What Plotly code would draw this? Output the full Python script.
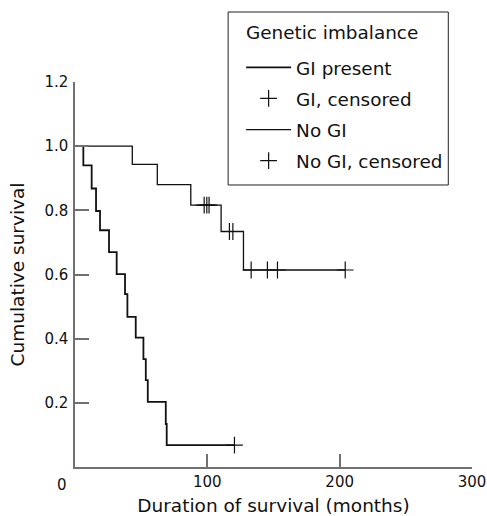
import plotly.graph_objects as go

# ---- data ----
gi_time = [0, 6.3, 12.6, 15.9, 18.9, 25.7, 31.5, 37.8, 39.6, 45.9, 51.7, 53.5, 55.0, 68.6, 69.3, 120.5]
gi_surv = [1.0, 0.940, 0.868, 0.798, 0.738, 0.670, 0.601, 0.539, 0.468, 0.403, 0.336, 0.271, 0.203, 0.134, 0.068, 0.068]
gi_cens_time = [120.5]
gi_cens_surv = [0.068]

nogi_time = [0, 43.3, 62.2, 87.5, 110.4, 127.3, 204.2]
nogi_surv = [1.0, 0.943, 0.880, 0.816, 0.734, 0.614, 0.614]
nogi_cens_time = [97.6, 99.6, 101.3, 116.7, 119.3, 133.1, 145.4, 153.0, 204.2]
nogi_cens_surv = [0.816, 0.816, 0.816, 0.734, 0.734, 0.614, 0.614, 0.614, 0.614]

x_tickvals = [0, 100, 200, 300]
x_ticktext = ["", "100", "200", "300"]
y_tickvals = [0, 0.2, 0.4, 0.6, 0.8, 1.0, 1.2]
y_ticktext = ["", "0.2", "0.4", "0.6", "0.8", "1.0", "1.2"]

FONT = "DejaVu Sans"
AXIS = "#707070"
INK = "#111111"

fig = go.Figure()
fig.add_trace(go.Scatter(x=gi_time, y=gi_surv, mode="lines", line=dict(color=INK, width=1.8, shape="hv"),
                         name="GI present", legendgroup="a"))
fig.add_trace(go.Scatter(x=gi_cens_time, y=gi_cens_surv, mode="markers",
                         marker=dict(symbol="cross-thin", size=12, line=dict(color=INK, width=1.2)),
                         name="GI, censored", legendgroup="b"))
fig.add_trace(go.Scatter(x=nogi_time, y=nogi_surv, mode="lines", line=dict(color=INK, width=1.3, shape="hv"),
                         name="No GI", legendgroup="c"))
fig.add_trace(go.Scatter(x=nogi_cens_time, y=nogi_cens_surv, mode="markers",
                         marker=dict(symbol="cross-thin", size=12, line=dict(color=INK, width=1.2)),
                         name="No GI, censored", legendgroup="d"))

fig.update_layout(
    width=487, height=516,
    margin=dict(l=75, r=15.3, t=81.7, b=49, autoexpand=False),
    plot_bgcolor="white", paper_bgcolor="white",
    font=dict(family=FONT, color=INK, size=15),
    showlegend=True,
    legend=dict(
        x=0.3857, y=1.086, xanchor="left", yanchor="top",
        borderwidth=0, bgcolor="rgba(0,0,0,0)",
        font=dict(family=FONT, size=18.4, color=INK),
        tracegroupgap=4.2, indentation=13, itemwidth=45,
    ),
    xaxis=dict(
        range=[0, 300], tickvals=x_tickvals, ticktext=x_ticktext,
        ticks="inside", ticklen=13, tickwidth=1.5, tickcolor=AXIS,
        showline=True, linecolor=AXIS, linewidth=1.5, showgrid=False, zeroline=False,
        tickfont=dict(family=FONT, size=15, color=INK),
        title=dict(text="Duration of survival (months)", font=dict(family=FONT, size=18.5, color=INK), standoff=17),
    ),
    yaxis=dict(
        range=[0, 1.2], tickvals=y_tickvals, ticktext=y_ticktext,
        ticks="inside", ticklen=14, tickwidth=1.5, tickcolor=AXIS,
        showline=True, linecolor=AXIS, linewidth=1.5, showgrid=False, zeroline=False,
        tickfont=dict(family=FONT, size=15, color=INK), ticklabelstandoff=2,
        title=dict(text="Cumulative survival", font=dict(family=FONT, size=18.5, color=INK), standoff=15),
    ),
    shapes=[dict(type="rect", xref="paper", yref="paper", x0=0.3857, x1=0.9403, y0=0.7325, y1=1.1818,
                 line=dict(color="#222222", width=1), fillcolor="rgba(0,0,0,0)")],
)
fig.add_annotation(x=0.426, y=1.1273, xref="paper", yref="paper", text="Genetic imbalance", showarrow=False,
                   xanchor="left", yanchor="middle", font=dict(family=FONT, size=18.4, color=INK))
fig.add_annotation(x=0, y=0, xref="paper", yref="paper", text="0", showarrow=False,
                   xanchor="right", yanchor="top", xshift=-6, yshift=-7,
                   font=dict(family=FONT, size=15, color=INK))

# remove the default 8px page margin so the 487x516 figure fills the window exactly
fig.write_html("out.html",
               config={"displayModeBar": False},
               post_script="document.body.style.margin='0';document.body.style.overflow='hidden';")
